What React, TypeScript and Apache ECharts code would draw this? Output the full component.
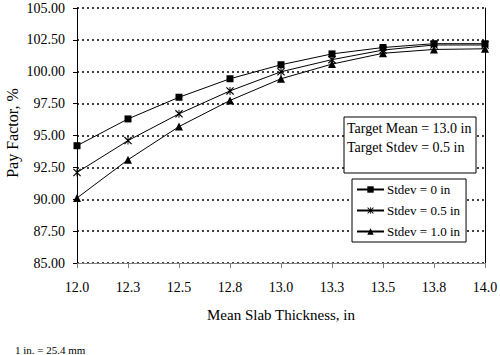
import React, { useEffect, useRef } from "react";
import * as echarts from "echarts";

const categories = ["12.0", "12.3", "12.5", "12.8", "13.0", "13.3", "13.5", "13.8", "14.0"];
const stdev0 = [94.2, 96.3, 98.0, 99.45, 100.55, 101.4, 101.9, 102.2, 102.2];
const stdev05 = [92.1, 94.6, 96.7, 98.5, 100.0, 100.95, 101.7, 102.1, 102.1];
const stdev10 = [90.1, 93.1, 95.7, 97.75, 99.45, 100.6, 101.45, 101.75, 101.8];
const seriesNames = ["Stdev = 0 in", "Stdev = 0.5 in", "Stdev = 1.0 in"];
const noteLines = ["Target Mean = 13.0 in", "Target Stdev = 0.5 in"];
const footnote = "1 in. = 25.4 mm";
const yTitle = "Pay Factor, %";

const FONT = "'Liberation Serif', 'Times New Roman', serif";
const ASTERISK =
  "path://M0,1L1,0L10,9L9,10ZM9,0L10,1L1,10L0,9ZM4.4,0L5.6,0L5.6,10L4.4,10Z";

export default function App() {
  const ref = useRef<HTMLDivElement>(null);
  useEffect(() => {
    if (!ref.current) return;
    const chart = echarts.init(ref.current, undefined, { renderer: "svg" });
    const mk = (name: string, data: number[], symbol: string, size: number) => ({
      name,
      type: "line",
      data,
      symbol,
      symbolSize: size,
      showSymbol: true,
      lineStyle: { color: "#000", width: 1 },
      itemStyle: { color: "#000", borderColor: "#000", borderWidth: 0 },
      z: 5,
    });
    chart.setOption({
      animation: false,
      textStyle: { fontFamily: FONT, color: "#000" },
      grid: {
        left: 77,
        right: 15,
        top: 8,
        bottom: 92,
        containLabel: false,
        outerBoundsMode: "none",
      },
      legend: {
        orient: "vertical",
        left: 352,
        top: 179,
        width: 110,
        padding: [4, 6, 4, 4],
        itemGap: 8,
        itemWidth: 27,
        itemHeight: 8,
        borderColor: "#000",
        borderWidth: 1,
        backgroundColor: "#fff",
        textStyle: { fontFamily: FONT, fontSize: 13, color: "#000", padding: [0, 0, 0, -2] },
        data: seriesNames,
      },
      xAxis: {
        type: "category",
        data: categories,
        boundaryGap: false,
        name: "Mean Slab Thickness, in",
        nameLocation: "middle",
        nameGap: 44,
        nameTextStyle: { fontFamily: FONT, fontSize: 15, color: "#000" },
        axisLine: { show: true, lineStyle: { color: "#808080", width: 1 } },
        axisTick: { show: true, inside: false, length: 5, alignWithLabel: true, lineStyle: { color: "#808080" } },
        axisLabel: { fontFamily: FONT, fontSize: 14, color: "#000", margin: 17 },
        splitLine: { show: false },
      },
      yAxis: [
        {
          type: "value",
          min: 85,
          max: 105,
          interval: 2.5,
          axisLine: { show: true, lineStyle: { color: "#000", width: 1 } },
          axisTick: { show: true, length: 4, lineStyle: { color: "#000" } },
          axisLabel: {
            fontFamily: FONT,
            fontSize: 14,
            color: "#000",
            margin: 12,
            formatter: (v: number) => v.toFixed(2),
          },
          splitLine: { show: true, lineStyle: { color: "#000", type: [2, 3], width: 1.5 } },
        },
        {
          type: "value",
          min: 85,
          max: 105,
          interval: 2.5,
          position: "right",
          axisLine: { show: true, lineStyle: { color: "#000", width: 1 } },
          axisTick: { show: false },
          axisLabel: { show: false },
          splitLine: { show: false },
        },
      ],
      series: [
        mk(seriesNames[0], stdev0, "rect", 7),
        mk(seriesNames[1], stdev05, ASTERISK, 8),
        mk(seriesNames[2], stdev10, "triangle", 8),
      ],
      graphic: [
        {
          type: "text",
          x: 12,
          y: 133,
          rotation: Math.PI / 2,
          style: {
            text: yTitle,
            font: `16px ${FONT}`,
            fill: "#000",
            align: "center",
            verticalAlign: "middle",
          },
        },
        {
          type: "rect",
          shape: { x: 344, y: 117, width: 132, height: 56 },
          style: { fill: "#fff", stroke: "#000", lineWidth: 1 },
          z: 10,
        },
        {
          type: "text",
          x: 347,
          y: 128,
          style: { text: noteLines[0], font: `14px ${FONT}`, fill: "#000", verticalAlign: "middle" },
          z: 11,
        },
        {
          type: "text",
          x: 347,
          y: 147,
          style: { text: noteLines[1], font: `14px ${FONT}`, fill: "#000", verticalAlign: "middle" },
          z: 11,
        },
        {
          type: "text",
          x: 15,
          y: 350,
          style: { text: footnote, font: `11px ${FONT}`, fill: "#000", verticalAlign: "middle" },
        },
      ],
    });
    return () => chart.dispose();
  }, []);
  return <div ref={ref} style={{ width: 500, height: 355, position: "absolute", left: 0, top: 0 }} />;
}
